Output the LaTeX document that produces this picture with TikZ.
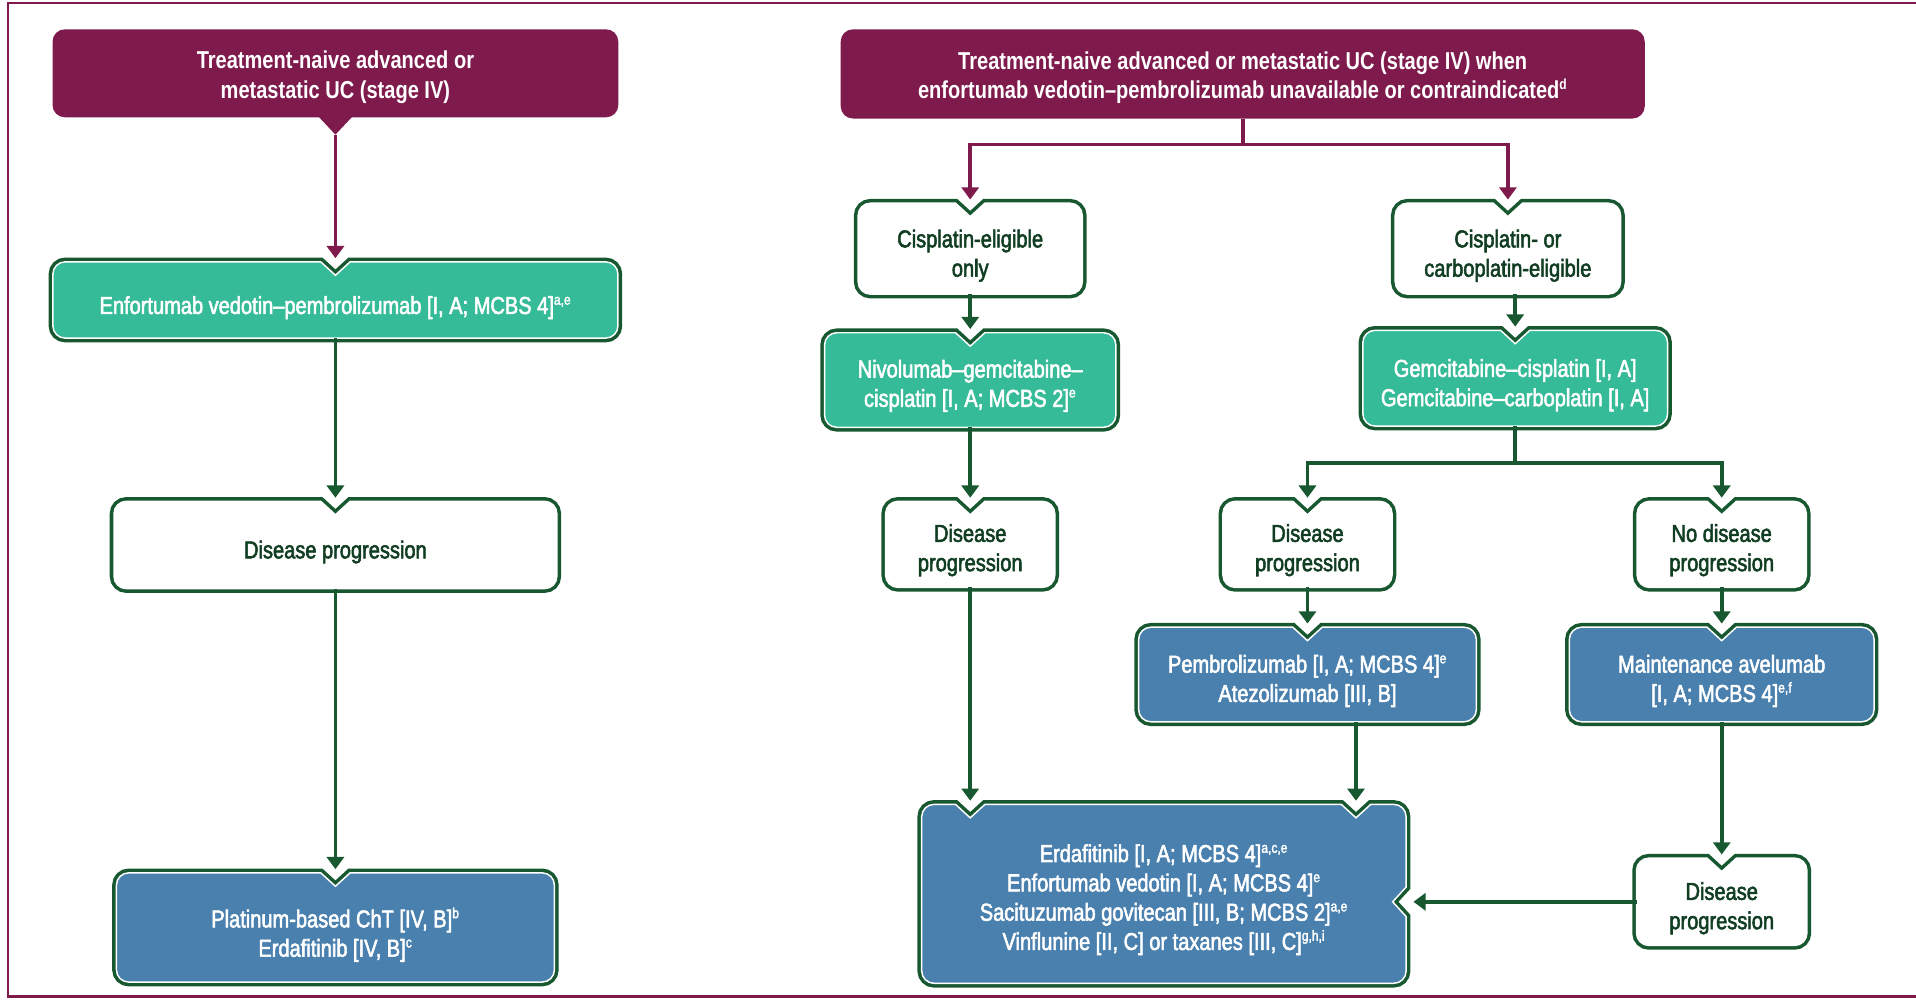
\documentclass[tikz,border=0pt]{standalone}
\usepackage{fontspec}
\setmainfont{Liberation Sans}[FakeStretch=0.82]
\newfontfamily\medfont{Liberation Sans}[Ligatures=TeX, FakeStretch=0.82, FakeBold=2.2]
\usetikzlibrary{arrows.meta,calc,backgrounds}

\definecolor{esmopurple}{RGB}{126,26,76}
\definecolor{dkgreen}{RGB}{24,88,48}
\definecolor{tealfill}{RGB}{54,187,153}
\definecolor{bluefill}{RGB}{74,128,174}

\newcommand\notchw{12pt}
\newcommand\notchd{11pt}
\newcommand\cornr{10pt}
\newcommand\fnmark[1]{\textsuperscript{\fontsize{12}{12}\selectfont#1}}

% rounded box outline with a notch in the middle of the top side
\newcommand\notchbox[2]{%
  \path[boxline, fill=#2] let \p1=(#1.north west), \p2=(#1.south east), \p3=(#1.north) in
    (\x3-\notchw,\y1) -- (\x3,\y1-\notchd) -- (\x3+\notchw,\y1)
    -- (\x2-\cornr,\y1) arc[start angle=90, end angle=0, radius=\cornr]
    -- (\x2,\y2+\cornr) arc[start angle=0, end angle=-90, radius=\cornr]
    -- (\x1+\cornr,\y2) arc[start angle=270, end angle=180, radius=\cornr]
    -- (\x1,\y1-\cornr) arc[start angle=180, end angle=90, radius=\cornr] -- cycle;}

\tikzstyle{txt}=[align=center, inner sep=0pt, font=\medfont\fontsize{20}{24}\selectfont]
\tikzstyle{hdtxt}=[txt, text=white, fill=esmopurple, rounded corners=10pt, text height=45pt,
                   font=\fontsize{20}{24}\selectfont\bfseries]
\tikzstyle{lighttxt}=[txt, text=white, text height=49pt]
\tikzstyle{darktxt}=[txt, text=dkgreen!70!black, text height=49pt]
\tikzstyle{boxline}=[draw=white, line width=1.2pt, line join=miter,
                     preaction={draw=dkgreen, line width=7pt, line join=miter}]
\tikzstyle{garrow}=[draw=dkgreen, line width=3pt, -{Triangle[width=14pt,length=10pt]}, shorten >=3pt]
\tikzstyle{parrow}=[draw=esmopurple, line width=3pt, -{Triangle[width=14pt,length=10pt]}, shorten >=3pt]

\begin{document}
\begin{tikzpicture}[x=1pt,y=-1pt]
  \useasboundingbox (0,0) rectangle (1568,818);
  \draw[esmopurple, line width=2pt] (1568,2.5) -- (6.5,2.5) -- (6.5,815.5) -- (1568,815.5);

  % left column
  \node[hdtxt, minimum width=463pt, minimum height=72pt] (a1) at (274.5,60) {Treatment-naive advanced or\\metastatic UC (stage IV)};
  \node[lighttxt, minimum width=462pt, minimum height=62pt, text height=27pt, below of=a1, node distance=185.5pt] (b1) {Enfortumab vedotin--pembrolizumab [I, A; MCBS 4]\fnmark{a,e}};
  \node[darktxt, minimum width=362pt, minimum height=71pt, text height=26pt, below of=b1, node distance=200.5pt] (c1) {Disease progression};
  \node[lighttxt, minimum width=358pt, minimum height=89pt, text height=52pt, below of=c1, node distance=313pt] (d1) {Platinum-based ChT [IV, B]\fnmark{b}\\Erdafitinib [IV, B]\fnmark{c}};
  \coordinate (a1tip) at ($(a1.south)+(0,14)$);

  % right part
  \node[hdtxt, minimum width=658pt, minimum height=73pt] (a2) at (1017,60.5) {Treatment-naive advanced or metastatic UC (stage IV) when\\enfortumab vedotin--pembrolizumab unavailable or contraindicated\fnmark{d}};
  \node[darktxt, minimum width=183pt, minimum height=74pt, text height=50pt] (b2) at (794,203.5) {Cisplatin-eligible\\only};
  \node[darktxt, minimum width=184pt, minimum height=74pt, text height=50pt] (b3) at (1234,203.5) {Cisplatin- or\\carboplatin-eligible};
  \node[lighttxt, minimum width=238pt, minimum height=77pt, text height=48pt, below of=b2, node distance=107.5pt] (c2) {Nivolumab--gemcitabine--\\cisplatin [I, A; MCBS 2]\fnmark{e}};
  \node[lighttxt, minimum width=249pt, minimum height=78pt, text height=50pt] (c3) at (1240,309.5) {Gemcitabine--cisplatin [I, A]\\Gemcitabine--carboplatin [I, A]};
  \node[darktxt, minimum width=138pt, minimum height=70pt, text height=48pt, below of=c2, node distance=134.5pt] (d2) {Disease\\progression};
  \node[darktxt, minimum width=138pt, minimum height=70pt, text height=48pt] (d3) at (1070,445.5) {Disease\\progression};
  \node[darktxt, minimum width=138pt, minimum height=70pt, text height=48pt] (d4) at (1409,445.5) {No disease\\progression};
  \node[lighttxt, minimum width=276pt, minimum height=77pt, below of=d3, node distance=106.5pt] (e3) {Pembrolizumab [I, A; MCBS 4]\fnmark{e}\\Atezolizumab [III, B]};
  \node[lighttxt, minimum width=249pt, minimum height=77pt, below of=d4, node distance=106.5pt] (e4) {Maintenance avelumab\\{[I, A; MCBS 4]\fnmark{e,f}}};
  \node[lighttxt, minimum width=396pt, minimum height=146pt, text height=96pt] (f) at (952.5,731.5) {Erdafitinib [I, A; MCBS 4]\fnmark{a,c,e}\\Enfortumab vedotin [I, A; MCBS 4]\fnmark{e}\\Sacituzumab govitecan [III, B; MCBS 2]\fnmark{a,e}\\Vinflunine [II, C] or taxanes [III, C]\fnmark{g,h,i}};
  \node[darktxt, minimum width=139pt, minimum height=71pt, below of=e4, node distance=186pt] (g) {Disease\\progression};
  \coordinate (fn1) at (d2 |- f.north);
  \coordinate (fn2) at ($(f.north east)+(-41,0)$);
  \coordinate (fn3) at (f.east |- g.west);

  \begin{scope}[on background layer]
    \fill[esmopurple] ($(a1.south)+(-15,-2)$) -- (a1tip) -- ($(a1.south)+(15,-2)$) -- cycle;
    \notchbox{b1}{tealfill}
    \notchbox{c1}{white}
    \notchbox{d1}{bluefill}
    \notchbox{b2}{white}
    \notchbox{b3}{white}
    \notchbox{c2}{tealfill}
    \notchbox{c3}{tealfill}
    \notchbox{d2}{white}
    \notchbox{d3}{white}
    \notchbox{d4}{white}
    \notchbox{e3}{bluefill}
    \notchbox{e4}{bluefill}
    \notchbox{g}{white}
    % two notches on top, one on the right side
    \path[boxline, fill=bluefill] let \p1=(f.north west), \p2=(f.south east), \p3=(fn1), \p4=(fn2), \p5=(fn3) in
      (\x3-\notchw,\y1) -- (\x3,\y1-\notchd) -- (\x3+\notchw,\y1)
      -- (\x4-\notchw,\y1) -- (\x4,\y1-\notchd) -- (\x4+\notchw,\y1)
      -- (\x2-\cornr,\y1) arc[start angle=90, end angle=0, radius=\cornr]
      -- (\x2,\y5+\notchw) -- (\x2-\notchd,\y5) -- (\x2,\y5-\notchw)
      -- (\x2,\y2+\cornr) arc[start angle=0, end angle=-90, radius=\cornr]
      -- (\x1+\cornr,\y2) arc[start angle=270, end angle=180, radius=\cornr]
      -- (\x1,\y1-\cornr) arc[start angle=180, end angle=90, radius=\cornr] -- cycle;
  \end{scope}

  \draw[parrow] (a1tip) -- (b1);
  \draw[garrow] (b1) -- (c1);
  \draw[garrow] (c1) -- (d1);
  \draw[parrow] (a2.south) -- ++(0,21) coordinate (a2split) -| (b2.north);
  \draw[parrow] (a2split) -| (b3.north);
  \draw[garrow] (b2) -- (c2);
  \draw[garrow] (b3.south -| c3.north) -- (c3);
  \draw[garrow] (c2) -- (d2);
  \draw[garrow] (c3.south) -- ++(0,30) coordinate (c3split) -| (d3.north);
  \draw[garrow] (c3split) -| (d4.north);
  \draw[garrow] (d3) -- (e3);
  \draw[garrow] (d4) -- (e4);
  \draw[garrow] (d2) -- (fn1);
  \draw[garrow] (e3.south -| fn2) -- (fn2);
  \draw[garrow] (e4) -- (g);
  \draw[garrow, shorten >=6pt] (g) -- (fn3);
\end{tikzpicture}
\end{document}
